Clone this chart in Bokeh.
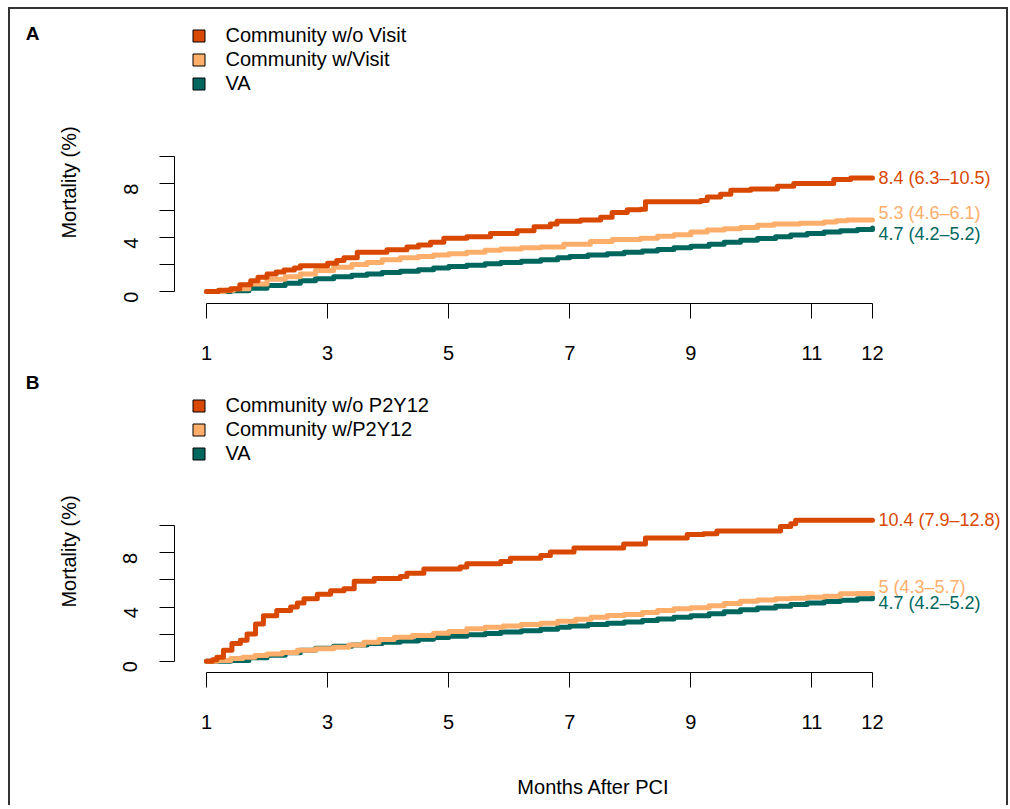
import math
from bokeh.plotting import figure
from bokeh.models import Range1d, FixedTicker, Legend, LegendItem, Label, ColumnDataSource
from bokeh.layouts import column
from bokeh.embed import file_html
from bokeh.resources import INLINE
from bokeh.core.properties import value

# ---------------- data ----------------
x_ticks = [1, 3, 5, 7, 9, 11, 12]
y_ticks = [0, 2, 4, 6, 8, 10]
y_label_hidden = {2: "", 6: "", 10: ""}

names_a = ["Community w/o Visit", "Community w/Visit", "VA"]
names_b = ["Community w/o P2Y12", "Community w/P2Y12", "VA"]
colors = ["#D94801", "#FDAE6B", "#01665E"]

end_text_a = ["8.4 (6.3\u201310.5)", "5.3 (4.6\u20136.1)", "4.7 (4.2\u20135.2)"]
end_text_b = ["10.4 (7.9\u201312.8)", "5 (4.3\u20135.7)", "4.7 (4.2\u20135.2)"]

# Panel A: community without visit
a1_m = [1.0, 1.2, 1.4, 1.55, 1.73, 1.85, 2.0, 2.15, 2.28, 2.45, 2.55, 3.0, 3.15, 3.27, 3.49, 3.98, 4.31, 4.5, 4.70, 4.92,
        5.30, 5.69, 6.13, 6.41, 6.68, 6.79, 7.18, 7.51, 7.70, 7.95, 8.17, 8.25, 9.16, 9.27, 9.49, 9.66, 9.99, 10.43, 10.70,
        11.36, 11.64, 12.0]
a1_v = [0, 0.1, 0.2, 0.5, 0.8, 1.05, 1.3, 1.45, 1.6, 1.75, 1.9, 2.1, 2.3, 2.5, 2.9, 3.1, 3.3, 3.45, 3.65, 3.95,
        4.05, 4.3, 4.5, 4.8, 5.0, 5.2, 5.3, 5.5, 5.85, 6.05, 6.1, 6.65, 6.75, 7.0, 7.2, 7.5, 7.6, 7.8, 8.0,
        8.3, 8.4, 8.4]
# Panel A: community with visit
a2_m = [1.0, 1.3, 1.45, 1.7, 2.0, 2.3, 2.55, 2.8, 3.1, 3.4, 3.65, 3.9, 4.2, 4.5, 4.75, 5.0, 5.3, 5.6, 5.86, 6.2,
        6.52, 6.9, 7.34, 7.7, 8.17, 8.45, 8.72, 9.0, 9.27, 9.55, 9.82, 10.1, 10.37, 10.8, 11.2, 11.4, 11.58, 12.0]
a2_v = [0, 0.1, 0.2, 0.55, 0.9, 1.1, 1.3, 1.55, 1.8, 2.0, 2.15, 2.35, 2.5, 2.6, 2.7, 2.8, 2.9, 3.05, 3.15, 3.25,
        3.3, 3.5, 3.7, 3.85, 3.95, 4.1, 4.2, 4.4, 4.55, 4.65, 4.75, 4.9, 5.0, 5.05, 5.15, 5.25, 5.3, 5.3]
# VA (both panels)
va_m = [1.0, 1.4, 1.7, 2.0, 2.3, 2.55, 2.8, 3.1, 3.4, 3.65, 3.9, 4.2, 4.5, 4.75, 5.0, 5.3, 5.6, 5.86, 6.2, 6.52,
        6.8, 7.0, 7.3, 7.62, 7.9, 8.2, 8.45, 8.72, 9.0, 9.3, 9.55, 9.82, 10.1, 10.4, 10.65, 10.92, 11.2, 11.47, 11.75, 12.0]
va_v = [0, 0.05, 0.25, 0.44, 0.62, 0.8, 0.95, 1.1, 1.2, 1.3, 1.4, 1.5, 1.62, 1.75, 1.85, 1.95, 2.05, 2.15, 2.25, 2.35,
        2.5, 2.6, 2.7, 2.8, 2.9, 3.0, 3.12, 3.25, 3.35, 3.5, 3.65, 3.8, 3.92, 4.05, 4.18, 4.3, 4.4, 4.5, 4.6, 4.7]
# Panel B: community without P2Y12
b1_m = [1.0, 1.1, 1.17, 1.28, 1.42, 1.56, 1.67, 1.81, 1.94, 2.16, 2.39, 2.5, 2.61, 2.83, 3.05, 3.27, 3.44, 3.77, 4.2, 4.31,
        4.59, 5.19, 5.3, 5.86, 6.02, 6.52, 6.68, 7.07, 7.89, 8.25, 8.94, 9.21, 9.43, 10.48, 10.65, 10.73, 12.0]
b1_v = [0, 0.1, 0.3, 0.8, 1.3, 1.55, 2.0, 2.75, 3.35, 3.75, 4.0, 4.3, 4.6, 4.95, 5.2, 5.35, 5.9, 6.1, 6.25, 6.5,
        6.8, 6.95, 7.2, 7.35, 7.6, 7.8, 8.05, 8.35, 8.65, 9.1, 9.35, 9.4, 9.6, 9.95, 10.15, 10.4, 10.4]
# Panel B: community with P2Y12
b2_m = [1.0, 1.17, 1.4, 1.6, 1.8, 2.0, 2.25, 2.5, 2.8, 3.1, 3.35, 3.6, 3.85, 4.1, 4.4, 4.75, 5.0, 5.3, 5.6, 5.9,
        6.2, 6.52, 6.8, 7.1, 7.35, 7.62, 7.9, 8.2, 8.45, 8.72, 9.0, 9.3, 9.55, 9.82, 10.1, 10.4, 10.65, 10.92, 11.2, 11.47,
        11.75, 12.0]
b2_v = [0, 0.05, 0.2, 0.3, 0.42, 0.54, 0.65, 0.8, 0.92, 1.03, 1.2, 1.4, 1.6, 1.77, 1.9, 2.07, 2.2, 2.39, 2.5, 2.6,
        2.7, 2.8, 2.95, 3.1, 3.25, 3.37, 3.45, 3.6, 3.75, 3.87, 3.95, 4.1, 4.25, 4.43, 4.52, 4.6, 4.65, 4.72, 4.8, 4.97,
        5.0, 5.0]

# ---------------- layout constants (page pixels) ----------------
FONT = "Liberation Sans"
W = 1008
X1_PX = 206.0          # page x of month 1
PX_PER_MONTH = 60.545
YAXIS_PX = 174         # page x of the y axis line


def xm(px):
    return 1 + (px - X1_PX) / PX_PER_MONTH


def make_panel(letter, letter_py, fig_top, fig_bottom, axis_py, zero_py, ppu,
               names, series, end_texts, nudges, legend_top_py, ylab_py, xlabel_py=None):
    def yv(py):
        return (zero_py - py) / ppu

    p = figure(width=W, height=fig_bottom - fig_top, output_backend="svg", toolbar_location=None,
               x_range=Range1d(xm(0), xm(W)),
               y_range=Range1d(yv(fig_bottom), yv(fig_top)),
               min_border=0, min_border_left=0, min_border_right=0,
               min_border_top=0, min_border_bottom=0)
    p.background_fill_color = None
    p.border_fill_color = None
    p.outline_line_color = None
    p.xgrid.visible = False
    p.ygrid.visible = False

    for ax in (p.xaxis, p.yaxis):
        ax.axis_line_color = "black"
        ax.axis_line_width = 1
        ax.major_tick_line_color = "black"
        ax.major_tick_out = 15
        ax.major_tick_in = 0
        ax.minor_tick_out = 0
        ax.minor_tick_in = 0
        ax.major_label_text_font = FONT
        ax.major_label_text_font_size = "20px"
        ax.major_label_text_color = "black"

    p.xaxis.ticker = FixedTicker(ticks=x_ticks)
    p.xaxis.bounds = (1, 12)
    p.xaxis.fixed_location = yv(axis_py)
    p.xaxis.major_label_standoff = 27

    p.yaxis.ticker = FixedTicker(ticks=y_ticks)
    p.yaxis.bounds = (0, 10)
    p.yaxis.fixed_location = xm(YAXIS_PX)
    p.yaxis.major_label_overrides = y_label_hidden
    p.yaxis.major_label_orientation = math.pi / 2
    p.yaxis.major_label_standoff = 29

    # curves: VA first so the community curves are drawn on top
    for i in [2, 1, 0]:
        m, v = series[i]
        p.step(m, v, mode="after", line_color=colors[i], line_width=5,
               line_join="round", line_cap="round")

    # end labels
    src = ColumnDataSource(dict(
        x=[series[i][0][-1] for i in range(3)],
        y=[series[i][1][-1] + nudges[i] for i in range(3)],
        t=end_texts, c=colors))
    p.text(x="x", y="y", text="t", text_color="c", source=src, x_offset=6,
           text_font=value(FONT), text_font_size="18px", text_align="left", text_baseline="middle")

    # legend with square keys (key renderers hold no visible data)
    items = []
    for i in range(3):
        r = p.rect(x=[float("nan")], y=[float("nan")], width=1, height=1,
                   fill_color=colors[i], line_color="black", line_width=1)
        items.append(LegendItem(label=names[i], renderers=[r]))
    legend_h = 72
    leg = Legend(items=items, location=(190.5, fig_bottom - (legend_top_py + legend_h)),
                 glyph_width=15, glyph_height=15, label_height=24, label_standoff=20,
                 spacing=0, padding=0, margin=0, border_line_color=None,
                 background_fill_alpha=0, label_text_font=FONT, label_text_font_size="20px",
                 label_text_color="black")
    p.add_layout(leg, "center")

    # panel letter and axis titles
    p.add_layout(Label(x=xm(32), y=yv(letter_py), text=letter, text_font=FONT, text_font_size="19px",
                       text_font_style="bold", text_align="center", text_baseline="middle",
                       text_color="black"))
    p.add_layout(Label(x=xm(68), y=yv(ylab_py), text="Mortality (%)", text_font=FONT,
                       text_font_size="20px", angle=math.pi / 2, text_align="center",
                       text_baseline="middle", text_color="black"))
    if xlabel_py is not None:
        p.add_layout(Label(x=xm(593), y=yv(xlabel_py), text="Months After PCI", text_font=FONT,
                           text_font_size="20px", text_align="center", text_baseline="middle",
                           text_color="black"))
    return p


pA = make_panel("A", 33, 0, 370, 303, 291.0, 13.5, names_a,
                [(a1_m, a1_v), (a2_m, a2_v), (va_m, va_v)], end_text_a, [0.0, 0.48, -0.42],
                23, 182)
pB = make_panel("B", 382, 370, 805, 672, 660.7, 13.55, names_b,
                [(b1_m, b1_v), (b2_m, b2_v), (va_m, va_v)], end_text_b, [0.0, 0.5, -0.44],
                393, 551, xlabel_py=786)

layout = column(pA, pB, spacing=0,
                styles={"box-shadow": "inset 8px 7px 0 0 #ffffff, inset 10px 9px 0 0 #333333, "
                                      "inset -2px 0 0 0 #333333"})

open("out.html", "w").write(file_html(layout, INLINE))
